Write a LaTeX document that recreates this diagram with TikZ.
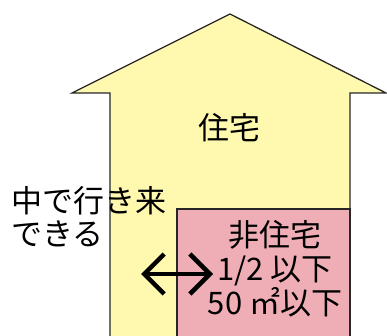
\documentclass[tikz,border=0pt]{standalone}
\usepackage{fontspec}
\setmainfont{Noto Sans CJK JP}
\usetikzlibrary{arrows.meta}
\definecolor{houseyellow}{RGB}{255,249,176}
\definecolor{pinkzone}{RGB}{239,174,181}
\tikzset{
  outline/.style={draw=black!85, line width=1.3pt, line join=miter},
  label/.style={font=\fontsize{31}{33}\selectfont, inner sep=0pt, align=center},
  dblarrow/.style={line width=4.5pt, {Straight Barb[length=20pt,width=40pt]}-{Straight Barb[length=20pt,width=40pt]}},
}
\begin{document}
\begin{tikzpicture}[x=1pt,y=-1pt]
\useasboundingbox (0,0) rectangle (387,336);
% house
\fill[houseyellow] (110,337) -- (110,93) -- (72,93) -- (230,14) -- (386,93) -- (350,93) -- (350,337) -- cycle;
\draw[outline] (110,337) -- (110,93) -- (72,93) -- (230,14) -- (386,93) -- (350,93) -- (350,337);
% non-residential part
\fill[pinkzone] (177,337) rectangle (350,209);
\draw[outline] (177,337) -- (177,209) -- (350,209) -- (350,337);
% labels
\node[label] (house) at (229,128) {住宅};
\node[label, align=left, anchor=west] (move) at (11,217) {中で行き来\\できる};
\node[label, font=\fontsize{31}{34}\selectfont] (nonres) at (275,269) {非住宅\\1/2 以下\\50 ㎡以下};
% arrow
\coordinate (aL) at (141,274);
\coordinate (aR) at (213,274);
\draw[dblarrow] (aL) -- (aR);
\end{tikzpicture}
\end{document}
